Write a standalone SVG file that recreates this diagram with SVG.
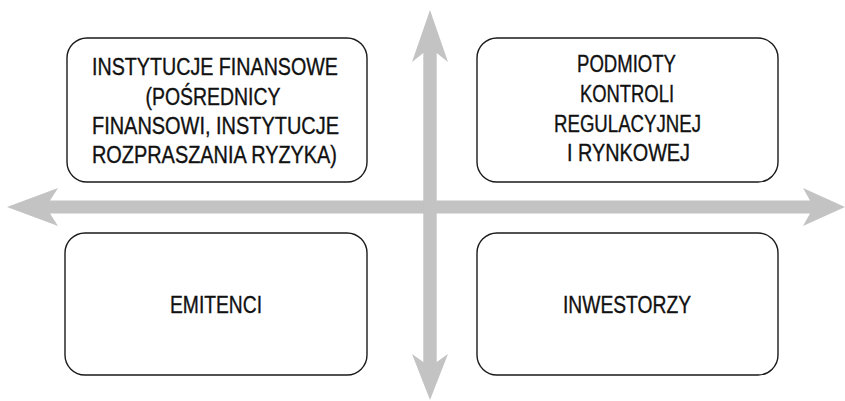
<svg xmlns="http://www.w3.org/2000/svg" width="845" height="401" viewBox="0 0 845 401">
<style>
.box{fill:#fff;stroke:#1a1a1a;stroke-width:1.4}
.arrow{fill:#c3c3c3;stroke:none}
text{font-family:"Liberation Sans",Arial,sans-serif;font-size:23px;fill:#111;stroke:#111;stroke-width:0.35;text-anchor:middle}
</style>
<rect width="845" height="401" fill="#fff"/>
<g id="connectors">
<polygon class="arrow" points="7,207 58,188 50,200.5 810,200.5 803,188 845,207 803,226 810,213.5 50,213.5 58,226"/>
<polygon class="arrow" points="430,10 448,62 436.7,53 436.7,362 448,354 430,400 412,354 423.3,362 423.3,53 412,62"/>
</g>
<g id="node-instytucje">
<rect class="box" x="67" y="38" width="300" height="144" rx="20"/>
<text x="215" y="75" textLength="246" lengthAdjust="spacingAndGlyphs">INSTYTUCJE FINANSOWE</text>
<text x="213" y="104.5" textLength="135" lengthAdjust="spacingAndGlyphs">(POŚREDNICY</text>
<text x="215.5" y="134" textLength="247" lengthAdjust="spacingAndGlyphs">FINANSOWI, INSTYTUCJE</text>
<text x="214.5" y="163" textLength="245" lengthAdjust="spacingAndGlyphs">ROZPRASZANIA RYZYKA)</text>
</g>
<g id="node-podmioty">
<rect class="box" x="477" y="38" width="301" height="144" rx="20"/>
<text x="626.5" y="72" textLength="99" lengthAdjust="spacingAndGlyphs">PODMIOTY</text>
<text x="627" y="102" textLength="94" lengthAdjust="spacingAndGlyphs">KONTROLI</text>
<text x="627.5" y="132" textLength="147" lengthAdjust="spacingAndGlyphs">REGULACYJNEJ</text>
<text x="628.5" y="161" textLength="123" lengthAdjust="spacingAndGlyphs">I RYNKOWEJ</text>
</g>
<g id="node-emitenci">
<rect class="box" x="65" y="233" width="302" height="142" rx="20"/>
<text x="216" y="313" textLength="92" lengthAdjust="spacingAndGlyphs">EMITENCI</text>
</g>
<g id="node-inwestorzy">
<rect class="box" x="477" y="233" width="301" height="142" rx="20"/>
<text x="627" y="313" textLength="128" lengthAdjust="spacingAndGlyphs">INWESTORZY</text>
</g>
</svg>
